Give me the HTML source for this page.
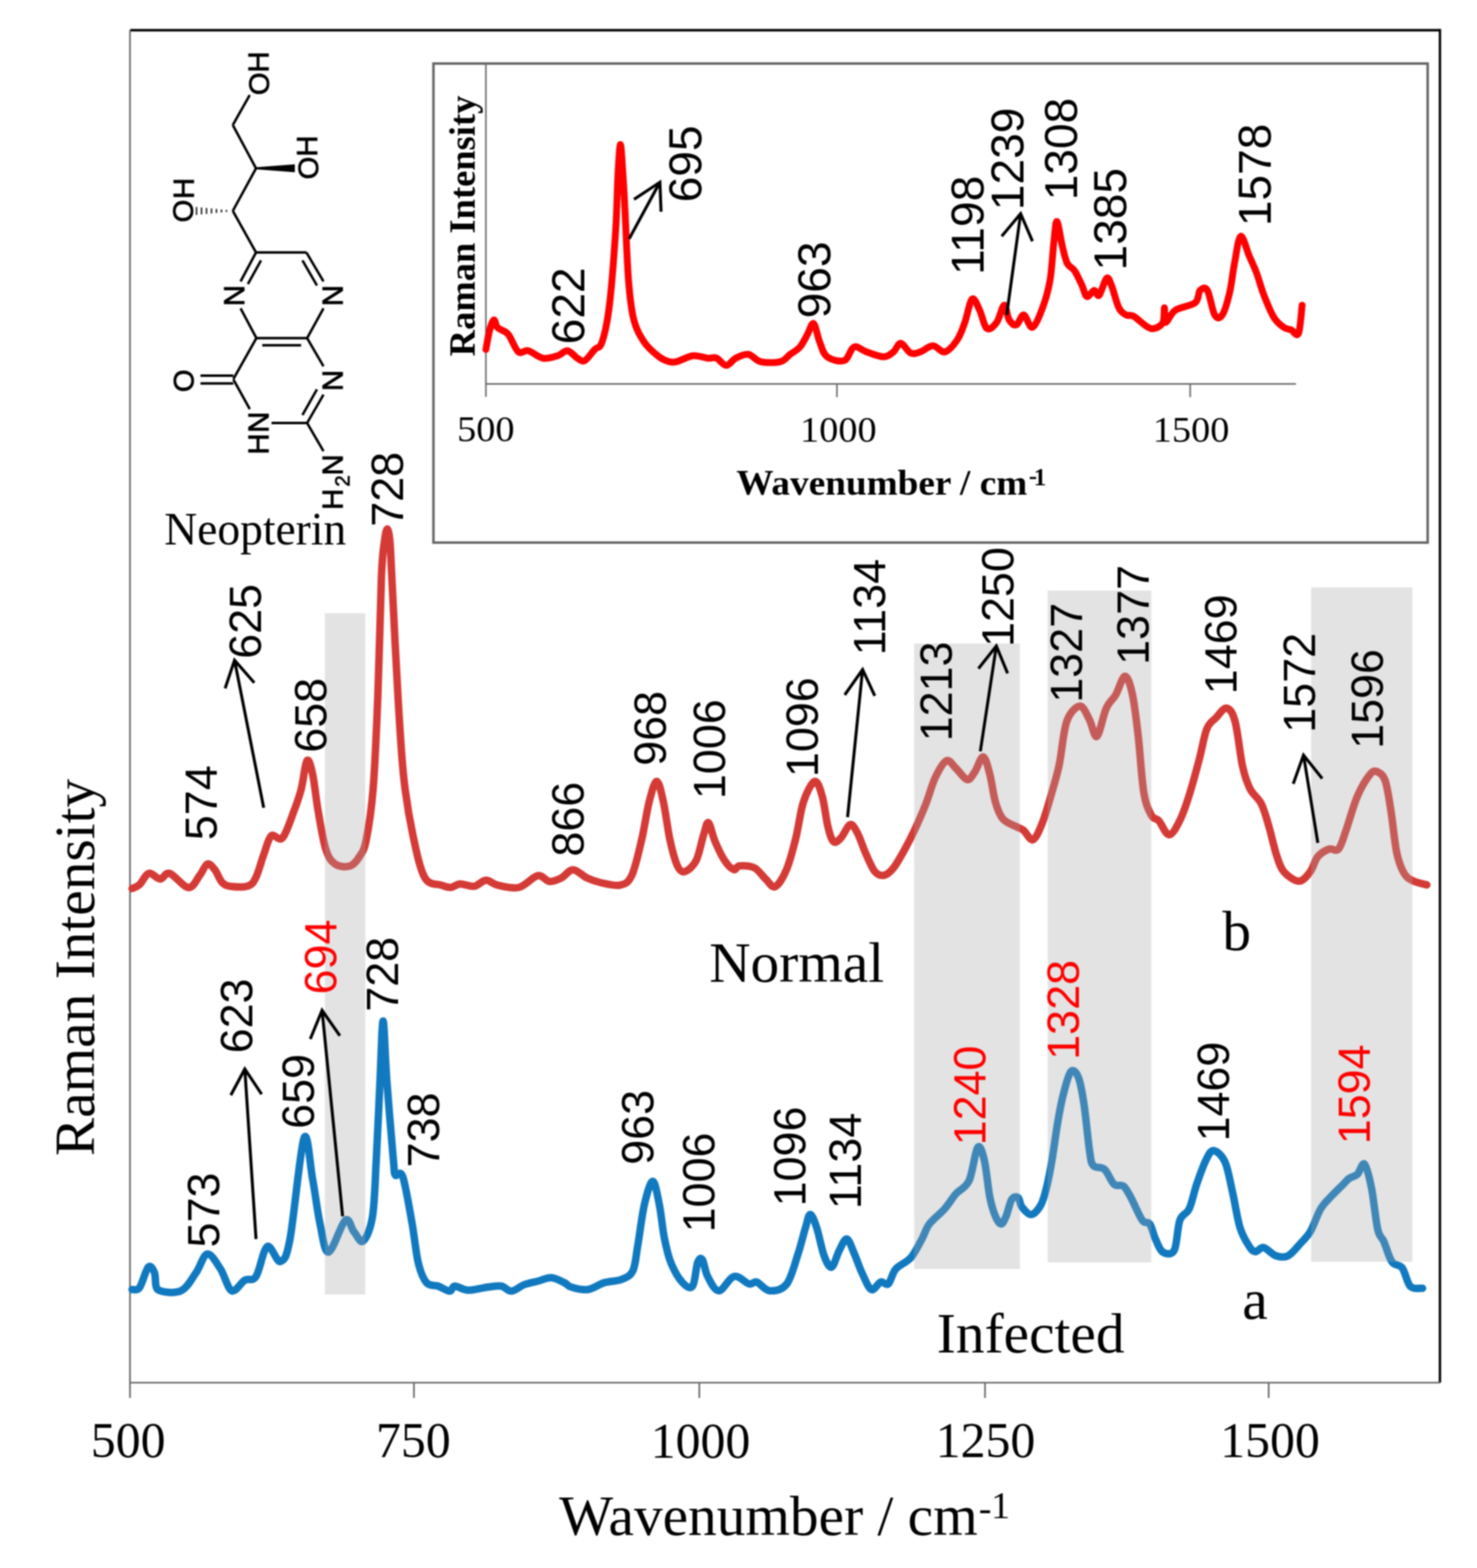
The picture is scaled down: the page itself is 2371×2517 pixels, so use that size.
<!DOCTYPE html>
<html><head><meta charset="utf-8"><title>Raman spectra</title>
<style>html,body{margin:0;padding:0;background:#fff;}svg{display:block;filter:blur(0.8px);}</style></head>
<body><svg width="2371" height="2517" viewBox="0 0 2371 2517">
<rect width="2371" height="2517" fill="#fff"/>
<line x1="209" y1="48.5" x2="2311.5" y2="48.5" stroke="#000" stroke-width="3.8"/>
<line x1="2311.5" y1="46.6" x2="2311.5" y2="2219.5" stroke="#000" stroke-width="3.8"/>
<line x1="208.7" y1="48" x2="208.7" y2="2244" stroke="#666" stroke-width="2.6"/>
<line x1="208.7" y1="2219.5" x2="2311.5" y2="2219.5" stroke="#666" stroke-width="2.6"/>
<line x1="664.5" y1="2219.5" x2="664.5" y2="2244" stroke="#666" stroke-width="2.6"/>
<line x1="1122.6" y1="2219.5" x2="1122.6" y2="2244" stroke="#666" stroke-width="2.6"/>
<line x1="1581.2" y1="2219.5" x2="1581.2" y2="2244" stroke="#666" stroke-width="2.6"/>
<line x1="2036.6" y1="2219.5" x2="2036.6" y2="2244" stroke="#666" stroke-width="2.6"/>
<path d="M212,1426.3 C214,1425.2 219.5,1424 224,1420 C228.5,1416 233.4,1403.5 239,1402 C244.6,1400.5 251.7,1411 257.3,1411 C262.9,1411 264.8,1399.7 272.4,1402 C279.9,1404.3 294.6,1424.3 302.6,1424.8 C310.7,1425.3 315.7,1411.3 320.7,1405 C325.7,1398.7 328.8,1388.5 332.8,1387 C336.8,1385.5 340.8,1391 344.8,1396 C348.8,1401 352.5,1412.5 357,1417 C361.5,1421.5 365,1422.2 372,1423 C379,1423.8 392.5,1424.3 399,1421.8 C405.5,1419.3 406.9,1416.3 411,1408 C415.1,1399.7 419.2,1383 423.3,1372 C427.4,1361 430.4,1346.3 435.4,1341.8 C440.4,1337.3 447.5,1351.5 453.5,1345 C459.5,1338.5 466.6,1315.7 471.6,1302.6 C476.6,1289.5 480.1,1280 483.6,1266.4 C487.1,1252.8 489.7,1225.1 492.7,1221 C495.7,1216.9 498.7,1228.4 501.7,1242 C504.7,1255.6 507.3,1282.4 510.8,1302.6 C514.3,1322.8 518.4,1348.9 522.9,1363 C527.4,1377.1 531.5,1382.5 538,1387 C544.5,1391.5 555.5,1392 562,1390 C568.5,1388 572.7,1381.8 577,1375 C581.3,1368.2 584,1367.2 587.7,1349 C591.4,1330.8 595.9,1305 599,1266 C602.1,1227 604.4,1171.6 606.6,1115 C608.8,1058.4 610.6,967.2 612.3,926.4 C614,885.6 615.4,882.9 617,870 C618.6,857.1 620.2,849 621.7,849 C623.2,849 624.8,857.1 626,870 C627.2,882.9 626.9,885.6 629,926.4 C631.1,967.2 635.5,1061.6 638.7,1115 C641.9,1168.4 644,1209.2 648,1247 C652,1284.8 657.3,1314.5 663,1341.5 C668.7,1368.5 674.4,1395.8 682,1409 C689.6,1422.2 701.6,1418.2 708.5,1420.8 C715.4,1423.4 718.6,1424.8 723.6,1424.5 C728.6,1424.2 732.4,1419.2 738.7,1418.9 C745,1418.6 754.4,1423.6 761.3,1422.6 C768.2,1421.6 773.7,1413.3 780,1413 C786.3,1412.7 790.2,1418.9 799,1420.8 C807.8,1422.7 822.3,1427 833,1424.5 C843.7,1422 855,1407.3 863.2,1405.7 C871.4,1404.1 875.7,1414.4 882,1415 C888.3,1415.6 894.7,1412.5 901,1409.4 C907.3,1406.3 912.9,1396.2 919.8,1396.2 C926.7,1396.2 935,1405.9 942.5,1409.4 C950,1412.9 956.2,1415.1 965,1417 C973.8,1418.9 987.1,1422.7 995.3,1420.8 C1003.5,1418.9 1008.2,1417.8 1014,1405.7 C1019.8,1393.6 1025.3,1367.7 1030,1348 C1034.7,1328.3 1038,1303.1 1042,1287.5 C1046,1271.9 1050.5,1254.3 1054.3,1254.3 C1058.1,1254.3 1061.5,1271.9 1065,1287.5 C1068.5,1303.1 1071.7,1330.9 1075.4,1348 C1079.2,1365.1 1083.5,1381.5 1087.5,1390 C1091.5,1398.5 1094.6,1400.5 1099.6,1399 C1104.6,1397.5 1112.7,1391 1117.7,1381 C1122.7,1371 1126.5,1348.8 1129.8,1338.8 C1133.1,1328.8 1134.3,1318.7 1137.3,1320.7 C1140.3,1322.7 1143.7,1341 1148,1351 C1152.3,1361 1158,1373.5 1163,1381 C1168,1388.5 1174,1394.5 1178,1396 C1182,1397.5 1181.5,1390.5 1187,1390 C1192.5,1389.5 1204,1389.5 1211,1393 C1218,1396.5 1223.7,1406.2 1229.3,1411.3 C1234.9,1416.3 1238.9,1425.8 1244.4,1423.3 C1249.9,1420.8 1257,1409 1262.5,1396 C1268,1383 1273.1,1363.1 1277.6,1345 C1282.1,1326.9 1284.7,1302.6 1289.7,1287.5 C1294.7,1272.4 1302.8,1255.8 1307.8,1254.3 C1312.8,1252.8 1316.5,1266.4 1320,1278.5 C1323.5,1290.6 1326,1314.7 1329,1326.8 C1332,1338.9 1334.5,1348 1338,1351 C1341.5,1354 1345.5,1349.5 1350,1345 C1354.5,1340.5 1360.5,1324.7 1365,1323.7 C1369.5,1322.7 1373.2,1331.2 1377.2,1338.8 C1381.2,1346.3 1384.8,1359 1389.3,1369 C1393.8,1379 1399.3,1393 1404.3,1399 C1409.3,1405 1414.4,1406 1419.4,1405 C1424.4,1404 1429,1400 1434.5,1393 C1440,1386 1447,1373 1452.6,1363 C1458.2,1353 1462.4,1344.9 1468,1332.8 C1473.6,1320.7 1480.7,1304.7 1486.2,1290.6 C1491.8,1276.5 1495.8,1259.9 1501.3,1248.3 C1506.8,1236.7 1513.9,1223.7 1519.4,1221.2 C1524.9,1218.7 1529,1228.2 1534.5,1233.2 C1540,1238.2 1547.6,1250.3 1552.6,1251.3 C1557.6,1252.3 1560.4,1245.3 1564.7,1239.3 C1569,1233.2 1574.2,1214.5 1578.2,1215 C1582.2,1215.5 1585.5,1230.2 1588.8,1242.3 C1592.1,1254.4 1594.4,1275.4 1597.9,1287.5 C1601.4,1299.6 1604.5,1308.2 1610,1314.7 C1615.5,1321.2 1625.5,1323.8 1631,1326.8 C1636.5,1329.8 1638.5,1329.3 1643,1332.8 C1647.5,1336.3 1653.2,1349.9 1658.2,1347.9 C1663.2,1345.9 1668.3,1333.3 1673.3,1320.7 C1678.3,1308.1 1683.9,1288.1 1688.4,1272.5 C1692.9,1256.9 1696.4,1246.3 1700.4,1227.2 C1704.4,1208.1 1707,1173.4 1712.5,1157.8 C1718,1142.2 1727.6,1134.1 1733.6,1133.6 C1739.6,1133.1 1744.2,1146.7 1748.7,1154.8 C1753.2,1162.9 1756.3,1185 1760.8,1182 C1765.3,1179 1770.9,1147.8 1775.9,1136.7 C1780.9,1125.6 1786,1124 1791,1115.5 C1796,1107 1801.5,1085.4 1806,1085.4 C1810.5,1085.4 1814.5,1099.4 1818,1115.5 C1821.5,1131.6 1824.2,1155.8 1827.2,1182 C1830.2,1208.2 1832.7,1251.4 1836.2,1272.5 C1839.7,1293.6 1844.3,1301.2 1848.3,1308.7 C1852.3,1316.2 1855.6,1312.5 1860.4,1317.7 C1865.2,1322.9 1871.2,1340.5 1877,1340 C1882.8,1339.5 1889.5,1326 1895,1314.8 C1900.5,1303.5 1905.2,1288.6 1910.2,1272.5 C1915.2,1256.4 1920.8,1235.3 1925.3,1218.2 C1929.8,1201.1 1932.8,1181.1 1937.3,1170 C1941.8,1158.9 1947.1,1157.3 1952.4,1151.8 C1957.7,1146.2 1964,1135.7 1969,1136.7 C1974,1137.7 1978.3,1142.2 1982.6,1157.8 C1986.9,1173.4 1990.7,1212.2 1994.7,1230.3 C1998.7,1248.4 2001.8,1256.5 2006.8,1266.5 C2011.8,1276.5 2019.9,1280.5 2024.9,1290.6 C2029.9,1300.7 2033,1313.3 2037,1326.9 C2041,1340.5 2045,1359.9 2049,1372 C2053,1384.1 2055,1392.2 2061,1399.3 C2067,1406.4 2078.1,1414.4 2085.2,1414.4 C2092.2,1414.4 2098.3,1405.8 2103.3,1399.3 C2108.3,1392.8 2110.4,1381.2 2115.4,1375.2 C2120.4,1369.2 2128,1365 2133.5,1363 C2139,1361 2144.1,1368 2148.6,1363 C2153.1,1358 2155.7,1347.1 2160.7,1333 C2165.7,1318.9 2172.3,1293.7 2178.8,1278.6 C2185.3,1263.5 2194.4,1249 2199.9,1242.4 C2205.4,1235.9 2208,1237.3 2212,1239.3 C2216,1241.3 2220.5,1243.8 2224,1254.4 C2227.5,1265 2230,1283.6 2233,1302.7 C2236,1321.8 2238.7,1352.4 2242.2,1369 C2245.7,1385.6 2249.7,1394.7 2254.2,1402.3 C2258.7,1409.9 2263.2,1411.4 2269.3,1414.4 C2275.4,1417.4 2287,1419.4 2290.5,1420.4" fill="none" stroke="#d43a36" stroke-width="12" stroke-linejoin="round" stroke-linecap="round"/>
<path d="M212,2070 C214,2069.5 219.7,2073 224,2067 C228.3,2061 234,2038 238,2034 C242,2030 245.5,2037 248,2043 C250.5,2049 248,2065.2 253,2070 C260.1,2074.8 280.2,2076.5 290.5,2072 C300.8,2067.5 307.6,2052.8 314.7,2043 C321.8,2033.2 326.2,2014 332.8,2013 C339.4,2012 347.5,2027.2 354,2037 C360.5,2046.8 365.5,2069 372,2072 C378.5,2075 386.5,2058.8 393,2055 C399.5,2051.2 405,2058 411,2049 C417,2040 422.5,2005 429,2001 C435.5,1997 443.9,2027 450,2025 C456.1,2023 459.2,2022 465.5,1989 C471.8,1956 482,1843.2 488,1827 C494,1810.8 497.4,1869 501.7,1892 C506,1915 509.5,1945.3 513.8,1965 C518.1,1984.7 520.6,2011 527.4,2010 C534.2,2009 547.7,1964.2 554.5,1958.7 C561.3,1953.2 563.2,1971.5 568,1977 C572.8,1982.5 578,1996.1 583,1992 C588,1987.9 594.5,1974.3 598,1952.6 C601.5,1930.9 602,1898.3 604,1862 C606,1825.7 608.2,1772.2 610,1735 C611.8,1697.8 613.2,1639 615,1639 C616.8,1639 618.2,1697.8 621,1735 C623.8,1772.2 629.2,1836.8 631.5,1862 C633.8,1887.2 632,1881.5 634.5,1886 C637,1890.5 642.1,1875.8 646.6,1889 C651.1,1902.2 657.6,1942 661.7,1965 C665.8,1988 667.6,2011.3 671.4,2027 C675.2,2042.7 679.4,2052.8 684.7,2059 C690,2065.2 697.2,2062.2 703.4,2064.5 C709.6,2066.8 717.6,2072.5 722,2072.5 C726.4,2072.5 725.1,2064.8 730,2064.5 C734.9,2064.2 742.5,2070.8 751.4,2071 C760.3,2071.2 774.6,2067.1 783.5,2066 C792.4,2064.9 798.6,2063.4 804.8,2064.5 C811,2065.6 814.7,2072.9 820.9,2072.5 C827.1,2072.1 834.9,2064.7 842,2062 C849.1,2059.3 856.4,2058.3 863.6,2056.5 C870.8,2054.7 877.9,2050.6 885,2051 C892.1,2051.4 900.7,2056.5 906,2059 C911.3,2061.5 910.7,2064.2 917,2066 C923.3,2067.8 934.8,2071.2 943.6,2070 C952.4,2068.8 961.1,2061.7 970,2059 C978.9,2056.3 989.4,2057.1 997,2054 C1004.6,2050.9 1011.2,2049.5 1015.7,2040.5 C1020.2,2031.5 1020.6,2017.8 1023.7,2000 C1026.8,1982.2 1030.4,1951 1034.4,1933.7 C1038.4,1916.4 1043.8,1896.3 1047.8,1896.3 C1051.8,1896.3 1055.3,1918.6 1058.4,1933.7 C1061.5,1948.8 1063.3,1971.5 1066.4,1987 C1069.5,2002.5 1072.1,2015 1077,2027 C1081.9,2039 1090,2052.8 1095.8,2059 C1101.6,2065.2 1107.8,2069.8 1111.8,2064.5 C1115.8,2059.2 1117.2,2034.1 1119.8,2027 C1122.4,2019.9 1124.8,2018.3 1127.5,2022 C1130.2,2025.7 1131.6,2040.7 1136,2049 C1140.4,2057.3 1146.9,2072 1154,2072 C1161.1,2072 1170.4,2050.8 1178.5,2049 C1186.6,2047.2 1196.6,2059.5 1202.6,2061 C1208.6,2062.5 1209.2,2056.2 1214.7,2058 C1220.2,2059.8 1227.8,2071.5 1235.8,2072 C1243.8,2072.5 1255.5,2070.8 1263,2061 C1270.5,2051.2 1276,2028 1281,2013 C1286,1998 1289.7,1981.3 1293,1970.7 C1296.3,1960.1 1297.7,1949.6 1300.7,1949.6 C1303.7,1949.6 1307.3,1959.6 1311,1970.7 C1314.7,1981.8 1319,2005.5 1323,2016 C1327,2026.5 1330.9,2035.5 1335,2034 C1339.1,2032.5 1343.3,2014.5 1347.4,2007 C1351.5,1999.5 1355.5,1987.8 1359.5,1988.8 C1363.5,1989.8 1367.6,2004 1371.6,2013 C1375.6,2022 1379.1,2033.5 1383.6,2043 C1388.1,2052.5 1393.7,2067.5 1398.7,2070 C1403.7,2072.5 1409.2,2059.5 1413.8,2058 C1418.3,2056.5 1422,2064.5 1426,2061 C1430,2057.5 1432,2044 1438,2037 C1444,2030 1455,2027 1462,2019 C1469,2011 1475,1997.8 1480,1988.8 C1485,1979.8 1485.9,1972.8 1492,1964.7 C1498.1,1956.7 1509.3,1948.5 1516.4,1940.5 C1523.5,1932.5 1528,1923.9 1534.5,1916.4 C1541,1908.9 1549.8,1907.7 1555.6,1895.3 C1561.4,1882.9 1565.3,1847.5 1569.4,1842 C1573.5,1836.5 1576.7,1848.7 1580,1862 C1583.3,1875.3 1586,1906.9 1589,1922 C1592,1937.1 1595,1945.5 1598,1952.6 C1601,1959.7 1604.2,1964.7 1607,1964.7 C1609.8,1964.7 1612.2,1959.1 1615,1952.6 C1617.8,1946.1 1620.8,1930.5 1624,1925.5 C1627.2,1920.5 1631.8,1920.5 1634.5,1922.5 C1637.2,1924.5 1637,1933 1640.5,1937.5 C1644,1942 1650.6,1950.1 1655.6,1949.6 C1660.6,1949.1 1666.7,1941.5 1670.7,1934.5 C1674.7,1927.5 1676.7,1919.5 1679.7,1907.4 C1682.7,1895.3 1685.8,1879.6 1688.8,1862 C1691.8,1844.4 1694.9,1819.4 1697.9,1801.8 C1700.9,1784.2 1703.5,1770.1 1707,1756.5 C1710.5,1742.9 1715,1724.8 1719,1720.3 C1723,1715.8 1727.5,1720.8 1731,1729.3 C1734.5,1737.8 1737,1752 1740,1771.6 C1743,1791.2 1746.5,1830.4 1749,1847 C1751.5,1863.6 1751,1866 1755,1871 C1759,1876 1767.4,1872 1773,1877 C1778.6,1882 1783.3,1896.5 1788.4,1901 C1793.5,1905.5 1799,1900.4 1803.5,1904 C1808,1907.6 1810.5,1913.4 1815.5,1922.5 C1820.5,1931.6 1828.6,1951.7 1833.6,1958.7 C1838.6,1965.7 1842.2,1959.7 1845.7,1964.7 C1849.2,1969.7 1851.3,1981.2 1854.8,1988.8 C1858.3,1996.3 1861.8,2007 1866.8,2010 C1871.8,2013 1880.5,2015.5 1885,2007 C1889.5,1998.5 1890,1969.8 1894,1958.7 C1898,1947.6 1904.5,1950.1 1909,1940.5 C1913.5,1930.9 1916.5,1914.1 1921,1901 C1925.5,1887.9 1931.5,1871 1936,1862 C1940.5,1853 1943.2,1846.5 1948.3,1847 C1953.4,1847.5 1961.4,1853.9 1966.4,1865 C1971.4,1876.1 1974.5,1895.8 1978.5,1913.4 C1982.5,1931 1986.1,1956.1 1990.6,1970.7 C1995.1,1985.3 2001.5,1994.6 2005.6,2001 C2009.7,2007.4 2011.6,2009 2015.4,2009.3 C2019.2,2009.6 2023.1,2001.6 2028.5,2002.7 C2033.9,2003.8 2041.5,2013.6 2048,2015.8 C2054.5,2018 2061.1,2019.1 2067.7,2015.8 C2074.3,2012.5 2081.4,2002.7 2087.4,1996.2 C2093.4,1989.7 2098.3,1985.9 2103.7,1976.6 C2109.1,1967.3 2114.6,1949.9 2120,1940.6 C2125.4,1931.3 2130.4,1927.5 2136.4,1921 C2142.4,1914.5 2151.1,1906.3 2156,1901.4 C2160.9,1896.5 2162.1,1894.2 2165.9,1891.5 C2169.7,1888.8 2174.9,1888.8 2179,1885 C2183.1,1881.2 2186.6,1864.9 2190.4,1868.7 C2194.2,1872.5 2198.3,1890.5 2201.8,1907.9 C2205.3,1925.3 2208.3,1959.1 2211.6,1973.3 C2214.9,1987.5 2217.7,1984.3 2221.5,1993 C2225.3,2001.7 2229.6,2018.5 2234.5,2025.6 C2239.4,2032.7 2246.1,2028.9 2251,2035.4 C2255.9,2042 2258.6,2059.5 2264,2064.9 C2269.4,2070.3 2280.3,2067.5 2283.6,2068" fill="none" stroke="#1179bf" stroke-width="12" stroke-linejoin="round" stroke-linecap="round"/>
<rect x="521.5" y="984.3" width="65" height="1093.7" fill="#a7a7a7" fill-opacity="0.318"/>
<rect x="1467.5" y="1033" width="169.8" height="1004" fill="#a7a7a7" fill-opacity="0.318"/>
<rect x="1681.8" y="948" width="166.4" height="1078.6" fill="#a7a7a7" fill-opacity="0.318"/>
<rect x="2104.7" y="943" width="162.6" height="1082.5" fill="#a7a7a7" fill-opacity="0.318"/>
<rect x="695.8" y="102" width="1596" height="769" fill="#fff" stroke="#666" stroke-width="4"/>
<line x1="780" y1="104" x2="780" y2="637" stroke="#666" stroke-width="2.4"/>
<line x1="780" y1="616.3" x2="2080.4" y2="616.3" stroke="#666" stroke-width="2.4"/>
<line x1="1343.5" y1="616.3" x2="1343.5" y2="637.5" stroke="#666" stroke-width="2.4"/>
<line x1="1910.6" y1="616.3" x2="1910.6" y2="637.5" stroke="#666" stroke-width="2.4"/>
<path d="M780,561 C781,555.8 783.9,537.9 786,530 C788.1,522.1 790.7,514.4 792.7,513.6 C794.7,512.8 796,522.4 798,525 C800,527.6 801.4,527.4 804.5,529.4 C807.6,531.4 811.8,531.4 816.4,537.3 C821,543.2 826.9,560.7 832.2,565 C837.5,569.3 841.4,561.3 848,563 C854.6,564.7 863.8,573.7 871.7,575 C879.6,576.3 888.9,573 895.4,571 C901.9,569 905.7,562.3 911,563 C916.3,563.7 922.4,572.4 927,575 C931.6,577.6 934.2,581.1 938.8,578.8 C943.4,576.5 950,566 954.6,561 C959.2,556 962.5,560.8 966.5,549 C970.5,537.2 974.7,519.6 978.3,490 C981.9,460.4 985.9,406.5 988.2,371.5 C990.5,336.5 990.7,303.2 992,280 C993.3,256.8 994.7,232 996,232 C997.3,232 998.8,263.3 1000,280 C1001.2,296.7 1001.5,303.6 1003,332 C1004.5,360.4 1006.6,420.2 1009,450.5 C1011.4,480.8 1013.3,497.2 1017.5,513.6 C1021.7,530 1028,539.8 1034,549 C1040,558.2 1047.5,564 1053.3,569 C1059.1,574 1063.7,576.8 1069,578.8 C1074.3,580.8 1077.7,582.1 1085,580.8 C1092.3,579.5 1104,572 1112.6,571 C1121.1,570 1130.1,574.4 1136.3,575 C1142.5,575.6 1145.1,572.8 1150,574.7 C1154.9,576.6 1160.5,586.6 1165.8,586.6 C1171.1,586.6 1175.7,577.7 1181.6,574.7 C1187.5,571.7 1194.7,567.8 1201.3,568.8 C1207.9,569.8 1212.4,578.6 1221,580.6 C1229.6,582.6 1244.8,582.6 1252.7,580.6 C1260.6,578.6 1263.2,572.7 1268.5,568.8 C1273.8,564.9 1279.6,562.3 1284.2,557 C1288.8,551.7 1292.4,543.5 1296,537.2 C1299.6,530.9 1302.7,517.4 1306,519.4 C1309.3,521.4 1312.2,540.1 1315.8,549 C1319.4,557.9 1321.1,567.8 1327.7,572.7 C1334.3,577.7 1348.1,581.3 1355.3,578.7 C1362.5,576.1 1365.1,559.3 1371,557 C1376.9,554.7 1382.9,562.2 1390.8,564.8 C1398.7,567.4 1411.2,572.7 1418.5,572.7 C1425.8,572.7 1429.7,568.4 1434.3,564.8 C1438.9,561.2 1441.4,550.7 1446,551 C1450.6,551.3 1456.7,564.5 1462,566.8 C1467.3,569.1 1471.8,566.8 1477.7,564.8 C1483.6,562.8 1490.9,555 1497.5,555 C1504.1,555 1510.6,566.5 1517.2,564.8 C1523.8,563.1 1531.7,552.9 1537,545 C1542.3,537.1 1544.9,528.3 1548.8,517.5 C1552.7,506.7 1556.6,483.3 1560.6,480 C1564.5,476.7 1568.5,489.8 1572.5,497.7 C1576.5,505.6 1579.7,524 1584.3,527.3 C1588.9,530.6 1595.4,523.8 1600,517.5 C1604.6,511.2 1608.7,490.5 1612,489.8 C1615.3,489.1 1616.7,508.2 1620,513.5 C1623.3,518.8 1627.8,522.7 1631.7,521.4 C1635.6,520.1 1639.2,504.9 1643.5,505.6 C1647.8,506.3 1652.4,527.4 1657.4,525.4 C1662.4,523.4 1669,506.4 1673.7,493.9 C1678.4,481.4 1682.5,467.5 1685.5,450.4 C1688.5,433.3 1689.7,407 1691.5,391.2 C1693.3,375.4 1694.3,355 1696.6,355.6 C1698.9,356.2 1702.5,383.8 1705.3,395 C1708.1,406.2 1709.9,416.2 1713.2,422.8 C1716.5,429.4 1721,428.7 1725,434.6 C1729,440.5 1733.7,451.4 1737,458.3 C1740.3,465.2 1741.5,474.7 1744.8,476 C1748.1,477.3 1753.3,466.5 1756.6,466.2 C1759.9,465.9 1761.2,477.3 1764.5,474 C1767.8,470.7 1773.1,449.1 1776.4,446.5 C1779.7,443.9 1781,450.4 1784.3,458.3 C1787.6,466.2 1792,486 1796,493.9 C1800,501.8 1804,503.4 1808,505.7 C1812,508 1813.2,504.1 1819.8,507.7 C1826.4,511.3 1839.6,525.8 1847.5,527.4 C1855.4,529 1863.6,523.1 1867.2,517.5 C1869.2,511.9 1868.6,493.9 1869.2,493.9 C1869.8,493.9 1869.2,516.9 1871,517.5 C1874,518.1 1879.1,503.1 1887,497.8 C1894.9,492.6 1911.9,491.3 1918.5,486 C1925.1,480.7 1923.1,469.5 1926.4,466.2 C1929.7,462.9 1934.4,459.6 1938.3,466.2 C1942.2,472.8 1946,499.1 1950,505.7 C1954,512.3 1958,511.6 1962,505.7 C1966,499.8 1970.5,484 1973.8,470.2 C1977.1,456.4 1978.7,437.9 1981.7,422.8 C1984.7,407.7 1987.6,381.3 1991.6,379.3 C1995.5,377.3 2001.1,401 2005.4,410.9 C2009.7,420.8 2013.4,428.1 2017.3,438.6 C2021.2,449.1 2024.4,462.2 2029,474 C2033.6,485.8 2039.7,501 2045,509.6 C2050.3,518.2 2056.1,522.1 2060.7,525.4 C2065.3,528.7 2068.6,527.8 2072.5,529.4 C2076.4,531 2081.4,541.9 2084.4,535.3 C2087.4,528.7 2089.3,497.5 2090.3,489.9" fill="none" stroke="#ff0000" stroke-width="11" stroke-linejoin="round" stroke-linecap="round"/>
<text transform="translate(352.3,2002.4) rotate(-90)" font-family='"Liberation Sans", Arial, sans-serif' font-size="72" fill="#000">573</text>
<text transform="translate(405.1,1690.8) rotate(-90)" font-family='"Liberation Sans", Arial, sans-serif' font-size="72" fill="#000">623</text>
<text transform="translate(503.9,1812.1) rotate(-90)" font-family='"Liberation Sans", Arial, sans-serif' font-size="72" fill="#000">659</text>
<text transform="translate(540.2,1596.3) rotate(-90)" font-family='"Liberation Sans", Arial, sans-serif' font-size="72" fill="#ff0000">694</text>
<text transform="translate(639.4,1624) rotate(-90)" font-family='"Liberation Sans", Arial, sans-serif' font-size="72" fill="#000">728</text>
<text transform="translate(704.8,1873.9) rotate(-90)" font-family='"Liberation Sans", Arial, sans-serif' font-size="72" fill="#000">738</text>
<text transform="translate(1048.5,1869.7) rotate(-90)" font-family='"Liberation Sans", Arial, sans-serif' font-size="72" fill="#000">963</text>
<text transform="translate(1147.3,1978.2) rotate(-90)" font-family='"Liberation Sans", Arial, sans-serif' font-size="72" fill="#000">1006</text>
<text transform="translate(1293,1936.5) rotate(-90)" font-family='"Liberation Sans", Arial, sans-serif' font-size="72" fill="#000">1096</text>
<text transform="translate(1382,1941.1) rotate(-90)" font-family='"Liberation Sans", Arial, sans-serif' font-size="72" fill="#000">1134</text>
<text transform="translate(1581.9,1838.6) rotate(-90)" font-family='"Liberation Sans", Arial, sans-serif' font-size="72" fill="#ff0000">1240</text>
<text transform="translate(1731.7,1701.2) rotate(-90)" font-family='"Liberation Sans", Arial, sans-serif' font-size="72" fill="#ff0000">1328</text>
<text transform="translate(1973,1832.3) rotate(-90)" font-family='"Liberation Sans", Arial, sans-serif' font-size="72" fill="#000">1469</text>
<text transform="translate(2198.8,1836.8) rotate(-90)" font-family='"Liberation Sans", Arial, sans-serif' font-size="72" fill="#ff0000">1594</text>
<text transform="translate(348.1,1348.7) rotate(-90)" font-family='"Liberation Sans", Arial, sans-serif' font-size="72" fill="#000">574</text>
<text transform="translate(418.7,1057.5) rotate(-90)" font-family='"Liberation Sans", Arial, sans-serif' font-size="72" fill="#000">625</text>
<text transform="translate(524.3,1208.3) rotate(-90)" font-family='"Liberation Sans", Arial, sans-serif' font-size="72" fill="#000">658</text>
<text transform="translate(646.6,845.6) rotate(-90)" font-family='"Liberation Sans", Arial, sans-serif' font-size="72" fill="#000">728</text>
<text transform="translate(937,1375.1) rotate(-90)" font-family='"Liberation Sans", Arial, sans-serif' font-size="72" fill="#000">866</text>
<text transform="translate(1068.6,1229.3) rotate(-90)" font-family='"Liberation Sans", Arial, sans-serif' font-size="72" fill="#000">968</text>
<text transform="translate(1164,1282.7) rotate(-90)" font-family='"Liberation Sans", Arial, sans-serif' font-size="72" fill="#000">1006</text>
<text transform="translate(1312.9,1247.4) rotate(-90)" font-family='"Liberation Sans", Arial, sans-serif' font-size="72" fill="#000">1096</text>
<text transform="translate(1420.8,1052.1) rotate(-90)" font-family='"Liberation Sans", Arial, sans-serif' font-size="72" fill="#000">1134</text>
<text transform="translate(1527.6,1190) rotate(-90)" font-family='"Liberation Sans", Arial, sans-serif' font-size="72" fill="#000">1213</text>
<text transform="translate(1627.1,1038.5) rotate(-90)" font-family='"Liberation Sans", Arial, sans-serif' font-size="72" fill="#000">1250</text>
<text transform="translate(1736.7,1128) rotate(-90)" font-family='"Liberation Sans", Arial, sans-serif' font-size="72" fill="#000">1327</text>
<text transform="translate(1843.7,1067.2) rotate(-90)" font-family='"Liberation Sans", Arial, sans-serif' font-size="72" fill="#000">1377</text>
<text transform="translate(1985.4,1114.4) rotate(-90)" font-family='"Liberation Sans", Arial, sans-serif' font-size="72" fill="#000">1469</text>
<text transform="translate(2110.8,1176.2) rotate(-90)" font-family='"Liberation Sans", Arial, sans-serif' font-size="72" fill="#000">1572</text>
<text transform="translate(2220.2,1202.1) rotate(-90)" font-family='"Liberation Sans", Arial, sans-serif' font-size="72" fill="#000">1596</text>
<text transform="translate(937.6,552.7) rotate(-90)" font-family='"Liberation Sans", Arial, sans-serif' font-size="74" fill="#000">622</text>
<text transform="translate(1126.2,324.8) rotate(-90)" font-family='"Liberation Sans", Arial, sans-serif' font-size="74" fill="#000">695</text>
<text transform="translate(1333.4,511.1) rotate(-90)" font-family='"Liberation Sans", Arial, sans-serif' font-size="74" fill="#000">963</text>
<text transform="translate(1579.2,441.3) rotate(-90)" font-family='"Liberation Sans", Arial, sans-serif' font-size="74" fill="#000">1198</text>
<text transform="translate(1643.3,337.4) rotate(-90)" font-family='"Liberation Sans", Arial, sans-serif' font-size="74" fill="#000">1239</text>
<text transform="translate(1728.8,321.6) rotate(-90)" font-family='"Liberation Sans", Arial, sans-serif' font-size="74" fill="#000">1308</text>
<text transform="translate(1807.8,434.2) rotate(-90)" font-family='"Liberation Sans", Arial, sans-serif' font-size="74" fill="#000">1385</text>
<text transform="translate(2039.8,363.1) rotate(-90)" font-family='"Liberation Sans", Arial, sans-serif' font-size="74" fill="#000">1578</text>
<path d="M411,1989 L393,1716 M370.5,1758 L393,1716 L420,1756.5" fill="none" stroke="#000" stroke-width="4.8"/>
<path d="M550,1952.6 L517,1621.8 M498.1,1667.8 L517,1621.8 L545.6,1662.6" fill="none" stroke="#000" stroke-width="4.8"/>
<path d="M423.3,1296.6 L376.5,1059.7 M361.4,1105 L376.5,1059.7 L408.2,1096" fill="none" stroke="#000" stroke-width="4.8"/>
<path d="M1360.6,1311.7 L1384.7,1074.8 M1356,1115.5 L1384.7,1074.8 L1404.3,1117" fill="none" stroke="#000" stroke-width="4.8"/>
<path d="M1573.7,1206 L1599.4,1037 M1570.7,1073.3 L1599.4,1037 L1617.5,1080.8" fill="none" stroke="#000" stroke-width="4.8"/>
<path d="M2115.5,1353 L2092.5,1212 M2076,1258.2 L2092.5,1212 L2122.5,1249.7" fill="none" stroke="#000" stroke-width="4.8"/>
<path d="M1010,383.3 L1059.3,292.5 M1017.8,320 L1059.3,292.5 L1061.2,339.9" fill="none" stroke="#000" stroke-width="4.8"/>
<path d="M1616,505.6 L1638.4,343 M1608,379.3 L1638.4,343 L1657.4,387.2" fill="none" stroke="#000" stroke-width="4.8"/>
<text x="145.7" y="2338.8" font-family='"Liberation Serif", "Times New Roman", serif' font-size="80" fill="#000">500</text>
<text x="603.4" y="2339.1" font-family='"Liberation Serif", "Times New Roman", serif' font-size="80" fill="#000">750</text>
<text x="1044.5" y="2339.6" font-family='"Liberation Serif", "Times New Roman", serif' font-size="80" fill="#000">1000</text>
<text x="1501.9" y="2339.2" font-family='"Liberation Serif", "Times New Roman", serif' font-size="80" fill="#000">1250</text>
<text x="1958.8" y="2339.2" font-family='"Liberation Serif", "Times New Roman", serif' font-size="80" fill="#000">1500</text>
<text x="897.4" y="2463.6" font-family='"Liberation Serif", "Times New Roman", serif' font-size="92">Wavenumber / cm</text>
<text x="1571.3" y="2441.4" font-family='"Liberation Serif", "Times New Roman", serif' font-size="61" fill="#000">-</text>
<text x="1591" y="2437.4" font-family='"Liberation Serif", "Times New Roman", serif' font-size="61" fill="#000">1</text>
<text transform="translate(150.8,1855.7) rotate(-90)" font-family='"Liberation Serif", "Times New Roman", serif' font-size="92" fill="#000">Raman Intensity</text>
<text x="1138.4" y="1576.1" font-family='"Liberation Serif", "Times New Roman", serif' font-size="92" fill="#000">Normal</text>
<text x="1503.8" y="2170.6" font-family='"Liberation Serif", "Times New Roman", serif' font-size="92" fill="#000">Infected</text>
<text x="1994.3" y="2117.1" font-family='"Liberation Serif", "Times New Roman", serif' font-size="92" fill="#000">a</text>
<text x="1962.2" y="1524.5" font-family='"Liberation Serif", "Times New Roman", serif' font-size="92" fill="#000">b</text>
<text x="263.8" y="874.4" font-family='"Liberation Serif", "Times New Roman", serif' font-size="73" fill="#000">Neopterin</text>
<text transform="translate(733.8,708.4) scale(1.0600,1)" font-family='"Liberation Serif", "Times New Roman", serif' font-size="58" fill="#000">500</text>
<text transform="translate(1284.3,709.2) scale(1.0600,1)" font-family='"Liberation Serif", "Times New Roman", serif' font-size="58" fill="#000">1000</text>
<text transform="translate(1850.6,709.2) scale(1.0600,1)" font-family='"Liberation Serif", "Times New Roman", serif' font-size="58" fill="#000">1500</text>
<text transform="translate(1181.9,793.5) scale(1.0580,1)" font-family='"Liberation Serif", "Times New Roman", serif' font-size="56.5" font-weight="bold" fill="#000">Wavenumber / cm</text>
<text x="1651.5" y="777.4" font-family='"Liberation Serif", "Times New Roman", serif' font-size="40" font-weight="bold" fill="#000">-</text>
<text x="1659.6" y="779.4" font-family='"Liberation Serif", "Times New Roman", serif' font-size="40" font-weight="bold" fill="#000">1</text>
<text transform="translate(762.3,571.9) rotate(-90)" font-family='"Liberation Serif", "Times New Roman", serif' font-size="58.6" font-weight="bold" fill="#000">Raman Intensity</text>
<line x1="400.9" y1="152.5" x2="373.7" y2="200.8" stroke="#000" stroke-width="4.0" stroke-linecap="butt"/>
<line x1="373.7" y1="200.8" x2="411" y2="270.2" stroke="#000" stroke-width="4.0" stroke-linecap="butt"/>
<line x1="411" y1="270.2" x2="373.7" y2="338.6" stroke="#000" stroke-width="4.0" stroke-linecap="butt"/>
<line x1="373.7" y1="338.6" x2="411" y2="405.3" stroke="#000" stroke-width="4.0" stroke-linecap="butt"/>
<line x1="411" y1="405.3" x2="491.9" y2="405.3" stroke="#000" stroke-width="4.0" stroke-linecap="butt"/>
<line x1="411" y1="405.3" x2="386.2" y2="451.8" stroke="#000" stroke-width="4.0" stroke-linecap="butt"/>
<line x1="419" y1="418" x2="397.9" y2="456" stroke="#000" stroke-width="4.0" stroke-linecap="butt"/>
<line x1="491.9" y1="405.3" x2="519.3" y2="451.8" stroke="#000" stroke-width="4.0" stroke-linecap="butt"/>
<line x1="485.5" y1="418" x2="508.8" y2="458.2" stroke="#000" stroke-width="4.0" stroke-linecap="butt"/>
<line x1="386.2" y1="495" x2="411.6" y2="542.7" stroke="#000" stroke-width="4.0" stroke-linecap="butt"/>
<line x1="519.3" y1="495" x2="493" y2="542.7" stroke="#000" stroke-width="4.0" stroke-linecap="butt"/>
<line x1="411.6" y1="542.7" x2="493" y2="542.7" stroke="#000" stroke-width="4.0" stroke-linecap="butt"/>
<line x1="421" y1="554.3" x2="483.4" y2="554.3" stroke="#000" stroke-width="4.0" stroke-linecap="butt"/>
<line x1="411.6" y1="542.7" x2="374.6" y2="608.5" stroke="#000" stroke-width="4.0" stroke-linecap="butt"/>
<line x1="321.8" y1="602.9" x2="374.6" y2="602.9" stroke="#000" stroke-width="4.0" stroke-linecap="butt"/>
<line x1="321.8" y1="615.5" x2="374.6" y2="615.5" stroke="#000" stroke-width="4.0" stroke-linecap="butt"/>
<line x1="374.6" y1="609" x2="401" y2="656.7" stroke="#000" stroke-width="4.0" stroke-linecap="butt"/>
<line x1="435.9" y1="678.9" x2="493" y2="678.9" stroke="#000" stroke-width="4.0" stroke-linecap="butt"/>
<line x1="493" y1="678.9" x2="519.3" y2="633.5" stroke="#000" stroke-width="4.0" stroke-linecap="butt"/>
<line x1="485.5" y1="666.2" x2="508.8" y2="625" stroke="#000" stroke-width="4.0" stroke-linecap="butt"/>
<line x1="493" y1="542.7" x2="519.3" y2="588" stroke="#000" stroke-width="4.0" stroke-linecap="butt"/>
<line x1="493" y1="678.9" x2="519.3" y2="724.3" stroke="#000" stroke-width="4.0" stroke-linecap="butt"/>
<polygon points="411,268.6 473.3,263.8 473.3,276.6 411,271.8" fill="#000"/>
<rect x="314.3" y="332.2" width="2.4" height="12.8" fill="#222"/>
<rect x="322.3" y="333" width="2.4" height="11.2" fill="#222"/>
<rect x="330.3" y="333.8" width="2.4" height="9.6" fill="#222"/>
<rect x="338.3" y="334.6" width="2.4" height="8" fill="#222"/>
<rect x="346.3" y="335.4" width="2.4" height="6.4" fill="#222"/>
<rect x="354.3" y="336.2" width="2.4" height="4.8" fill="#222"/>
<rect x="362.3" y="337" width="2.4" height="3.2" fill="#222"/>
<text transform="translate(431.6,152.7) rotate(-90)" font-family='"Liberation Sans", Arial, sans-serif' font-size="47" fill="#000" stroke="#000" stroke-width="1.1">O</text>
<text transform="translate(430.6,116.6) rotate(-90)" font-family='"Liberation Sans", Arial, sans-serif' font-size="47" fill="#000" stroke="#000" stroke-width="1.1">H</text>
<text transform="translate(511.1,287.9) rotate(-90)" font-family='"Liberation Sans", Arial, sans-serif' font-size="47" fill="#000" stroke="#000" stroke-width="1.1">O</text>
<text transform="translate(509.1,251.5) rotate(-90)" font-family='"Liberation Sans", Arial, sans-serif' font-size="47" fill="#000" stroke="#000" stroke-width="1.1">H</text>
<text transform="translate(310.4,356.9) rotate(-90)" font-family='"Liberation Sans", Arial, sans-serif' font-size="47" fill="#000" stroke="#000" stroke-width="1.1">O</text>
<text transform="translate(311.4,319.4) rotate(-90)" font-family='"Liberation Sans", Arial, sans-serif' font-size="47" fill="#000" stroke="#000" stroke-width="1.1">H</text>
<text transform="translate(391.9,491.5) rotate(-90)" font-family='"Liberation Sans", Arial, sans-serif' font-size="47" fill="#000" stroke="#000" stroke-width="1.1">N</text>
<text transform="translate(550.3,491.5) rotate(-90)" font-family='"Liberation Sans", Arial, sans-serif' font-size="47" fill="#000" stroke="#000" stroke-width="1.1">N</text>
<text transform="translate(550.3,627.7) rotate(-90)" font-family='"Liberation Sans", Arial, sans-serif' font-size="47" fill="#000" stroke="#000" stroke-width="1.1">N</text>
<text transform="translate(311.1,629.6) rotate(-90)" font-family='"Liberation Sans", Arial, sans-serif' font-size="47" fill="#000" stroke="#000" stroke-width="1.1">O</text>
<text transform="translate(431,694.8) rotate(-90)" font-family='"Liberation Sans", Arial, sans-serif' font-size="47" fill="#000" stroke="#000" stroke-width="1.1">N</text>
<text transform="translate(431,729.7) rotate(-90)" font-family='"Liberation Sans", Arial, sans-serif' font-size="47" fill="#000" stroke="#000" stroke-width="1.1">H</text>
<text transform="translate(549.7,763.2) rotate(-90)" font-family='"Liberation Sans", Arial, sans-serif' font-size="47" fill="#000" stroke="#000" stroke-width="1.1">N</text>
<text transform="translate(550.3,818.5) rotate(-90)" font-family='"Liberation Sans", Arial, sans-serif' font-size="47" fill="#000" stroke="#000" stroke-width="1.1">H</text>
<text transform="translate(560.5,781.3) rotate(-90)" font-family='"Liberation Sans", Arial, sans-serif' font-size="33" fill="#000" stroke="#000" stroke-width="0.9">2</text>
</svg></body></html>
